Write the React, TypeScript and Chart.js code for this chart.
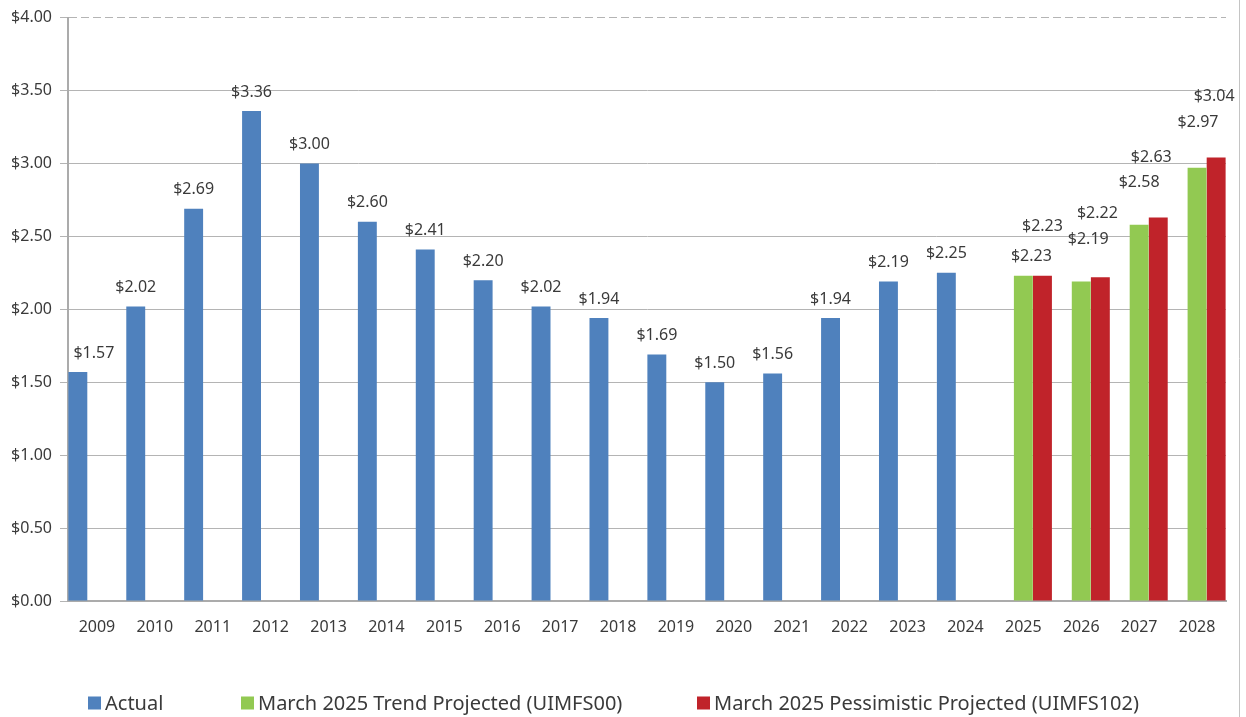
import React, { useEffect, useRef } from "react";
import { Chart, registerables } from "chart.js";

Chart.register(...registerables);

const years = ["2009","2010","2011","2012","2013","2014","2015","2016","2017","2018","2019","2020","2021","2022","2023","2024","2025","2026","2027","2028"];
const actual = [1.57, 2.02, 2.69, 3.36, 3.0, 2.6, 2.41, 2.2, 2.02, 1.94, 1.69, 1.5, 1.56, 1.94, 2.19, 2.25, null, null, null, null];
const trend = [null, null, null, null, null, null, null, null, null, null, null, null, null, null, null, null, 2.23, 2.19, 2.58, 2.97];
const pessimistic = [null, null, null, null, null, null, null, null, null, null, null, null, null, null, null, null, 2.23, 2.22, 2.63, 3.04];
const seriesNames = ["Actual", "March 2025 Trend Projected (UIMFS00)", "March 2025 Pessimistic Projected (UIMFS102)"];
const yTicks = [0, 0.5, 1, 1.5, 2, 2.5, 3, 3.5, 4];

// label nudges (style only): [dx, dy] in px relative to default label spot
const actualLabelNudge: Record<number, [number, number]> = { 0: [16, 0] };
const trendLabelNudge: Record<number, [number, number]> = { 16: [8, 0], 17: [7, -23], 18: [0, -23], 19: [1, -26] };
const pessLabelNudge: Record<number, [number, number]> = { 16: [0, -30], 17: [-3, -45], 18: [-7, -41], 19: [-2, -42] };

const COLORS = ["#4F81BD", "#92C952", "#C0232A"];
const TEXT = "#3a3a3a";
const FONT = "'Noto Sans', sans-serif";
const legendBoxX = [88, 241, 697];

const labelPlugin = {
  id: "valueLabels",
  afterDatasetsDraw(chart: any) {
    const ctx = chart.ctx;
    const nudges = [actualLabelNudge, trendLabelNudge, pessLabelNudge];
    ctx.save();
    ctx.font = `16px ${FONT}`;
    ctx.fillStyle = TEXT;
    ctx.textAlign = "center";
    ctx.textBaseline = "middle";
    chart.data.datasets.forEach((ds: any, di: number) => {
      const meta = chart.getDatasetMeta(di);
      meta.data.forEach((bar: any, i: number) => {
        const v = ds.data[i];
        if (v === null || v === undefined) return;
        const n = nudges[di][i] || [0, 0];
        ctx.fillText("$" + v.toFixed(2), bar.x + n[0], bar.y - 19 + n[1]);
      });
    });
    ctx.restore();
  },
  afterDraw(chart: any) {
    const ctx = chart.ctx;
    ctx.save();
    // legend
    ctx.font = `20px ${FONT}`;
    ctx.textBaseline = "middle";
    ctx.textAlign = "left";
    chart.data.datasets.forEach((ds: any, di: number) => {
      const x = legendBoxX[di];
      const y = 703;
      ctx.fillStyle = ds.backgroundColor;
      ctx.fillRect(x, y - 6.5, 13, 13);
      ctx.fillStyle = TEXT;
      ctx.fillText(ds.label, x + 17, y + 1);
    });
    // chart border on right
    ctx.strokeStyle = "#c4c4c4";
    ctx.lineWidth = 1;
    ctx.beginPath();
    ctx.moveTo(1239.5, 0);
    ctx.lineTo(1239.5, 717);
    ctx.stroke();
    ctx.restore();
  },
};

export default function App() {
  const ref = useRef<HTMLCanvasElement>(null);
  useEffect(() => {
    if (!ref.current) return;
    const chart = new Chart(ref.current, {
      type: "bar",
      data: {
        labels: years,
        datasets: [
          { label: seriesNames[0], data: actual, backgroundColor: COLORS[0] },
          { label: seriesNames[1], data: trend, backgroundColor: COLORS[1] },
          { label: seriesNames[2], data: pessimistic, backgroundColor: COLORS[2] },
        ],
      },
      options: {
        animation: false,
        responsive: false,
        maintainAspectRatio: false,
        layout: { padding: { top: 16, right: 20, left: 0, bottom: 0 } },
        datasets: { bar: { categoryPercentage: 0.99, barPercentage: 0.99 } },
        plugins: { legend: { display: false }, tooltip: { enabled: false } },
        scales: {
          x: {
            grid: { display: false, drawTicks: false },
            border: { display: true, color: "#ababab", width: 2 },
            ticks: { color: TEXT, font: { family: FONT, size: 16 }, padding: 17, maxRotation: 0 },
            afterFit: (s: any) => { s.height = 116; },
          },
          y: {
            min: 0,
            max: 4,
            afterBuildTicks: (s: any) => { s.ticks = yTicks.map((v) => ({ value: v })); },
            grid: { color: "#b4b4b4", lineWidth: 1, drawTicks: true, tickLength: 8 },
            border: {
              display: true,
              color: "#ababab",
              width: 2,
              dash: (c: any) => (c && c.tick && c.tick.value === 4 ? [8, 4] : []),
            },
            ticks: {
              color: TEXT,
              font: { family: FONT, size: 16 },
              padding: 8,
              callback: (v: any) => "$" + Number(v).toFixed(2),
            },
            afterFit: (s: any) => { s.width = 68; },
          },
        },
      },
      plugins: [labelPlugin],
    });
    return () => chart.destroy();
  }, []);
  return (
    <div style={{ position: "absolute", left: 0, top: 0, width: 1246, height: 717, background: "#fff" }}>
      <canvas ref={ref} width={1246} height={717} style={{ width: 1246, height: 717 }} />
    </div>
  );
}
